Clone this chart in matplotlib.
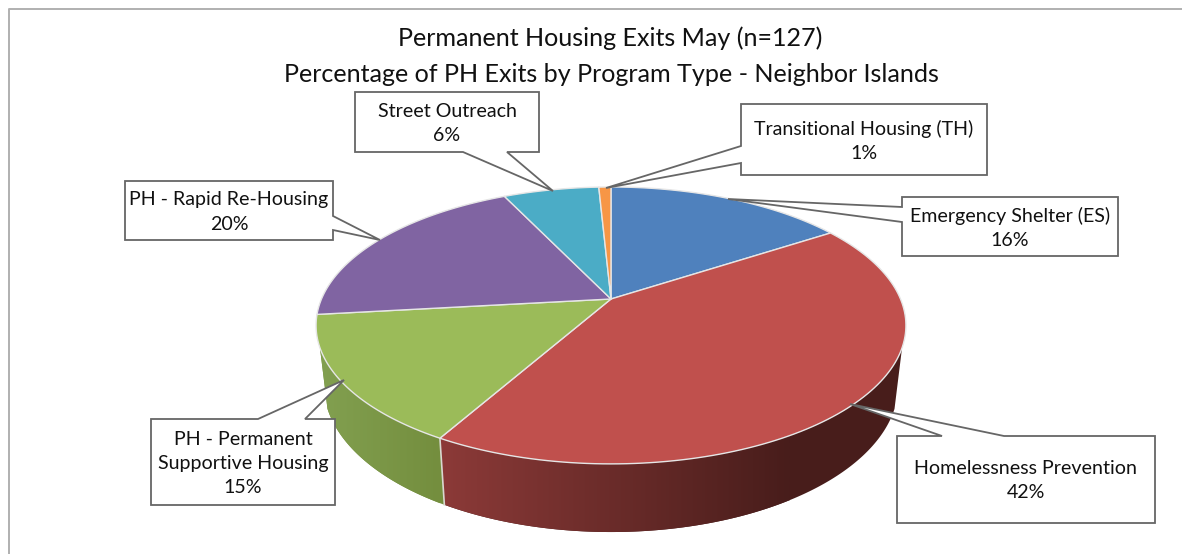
import numpy as np
import matplotlib
matplotlib.use('Agg')
import matplotlib.pyplot as plt
from matplotlib.patches import Polygon

plt.rcParams['font.family'] = ['Lato', 'DejaVu Sans']

names = ['Emergency Shelter (ES)', 'Homelessness Prevention',
         'PH - Permanent\nSupportive Housing', 'PH - Rapid Re-Housing',
         'Street Outreach', 'Transitional Housing (TH)']
values = [15.8, 42.4, 15.0, 19.7, 6.3, 0.8]
colors = ['#4F81BD', '#C0504D', '#9BBB59', '#8064A2', '#4BACC6', '#F79646']

# wall shading, colour at left and right end of each wall piece
wall_cols = {1: ((140, 58, 56), (72, 29, 27)), 2: ((130, 160, 80), (116, 142, 62))}
wall_x = {1: (440, 790), 2: (320, 440)}

# callouts in pixels: box (x0, y0, x1, y1), leader base 1, base 2, tip
boxes = [(902, 197, 1118, 256), (897, 436, 1155, 523), (151, 419, 335, 505),
         (125, 181, 333, 240), (355, 92, 539, 152), (741, 104, 987, 175)]
bases = [((902, 207), (902, 222)), ((942, 436), (1004, 436)), ((258, 419), (305, 419)),
         ((333, 216), (333, 230)), ((463, 152), (507, 152)), ((741, 146), (741, 163))]
tips = [(728, 199), (850, 404), (344, 380), (380, 240), (553, 191), (606, 188)]

cx = 611
cy = 299
k = 0.191


def top(theta):
    # clockwise from 12 o'clock, perspective circle
    u, v = np.sin(theta), np.cos(theta)
    w = 1 + k * v
    return np.column_stack([cx + 289.5 * u / w, cy - 133.4 * v / w])


def bottom(theta):
    u, v = np.sin(theta), np.cos(theta)
    w = 1 + k * v
    return np.column_stack([cx + 282 * u / w, 357 - 141.6 * v / w])


fig = plt.figure(figsize=(11.82, 5.54), dpi=100)
ax = fig.add_axes([0, 0, 1, 1])
ax.axis('off')

# chart frame
ax.plot([9, 9, 1182], [554, 9, 9], color='#b0b0b0', lw=1.4, zorder=1)

edges = np.radians(np.concatenate([[0], np.cumsum(values)]) * 3.6)

# side wall, only the front part shows
wall_a = np.radians(110)
wall_b = np.radians(250)
for i in [1, 2]:
    t = np.linspace(max(edges[i], wall_a), min(edges[i + 1], wall_b), 200)
    pts = np.vstack([top(t), bottom(t)[::-1]])
    x0, x1 = wall_x[i]
    left, right = wall_cols[i]
    s = np.linspace(0, 1, 256)
    grad = np.array([[(left[c] * (1 - v) + right[c] * v) / 255 for c in range(3)] for v in s])
    # flat colour past the gradient ends
    ax.add_patch(Polygon(pts, closed=True, facecolor=np.array(right) / 255,
                         edgecolor='none', zorder=1.5))
    im = ax.imshow(grad[np.newaxis, :, :], extent=(x0, x1, 554, 0), aspect='auto', zorder=2)
    im.set_clip_path(Polygon(pts, closed=True, transform=ax.transData))

ax.set_xlim(0, 1182)
ax.set_ylim(554, 0)

# seam between red and green on the wall
seam = np.array([edges[2]])
ax.plot([top(seam)[0, 0], bottom(seam)[0, 0]], [top(seam)[0, 1], bottom(seam)[0, 1]],
        color='#d8d8d0', lw=1.2, zorder=3)

# top face
for i in range(len(values)):
    t = np.linspace(edges[i], edges[i + 1], 120)
    pts = np.vstack([[cx, cy], top(t)])
    ax.add_patch(Polygon(pts, closed=True, facecolor=colors[i], edgecolor='#e6e6e6',
                         lw=1.0, joinstyle='round', zorder=4))

# callouts
for i in range(len(names)):
    x0, y0, x1, y1 = boxes[i]
    b1, b2 = bases[i]
    if b1[0] == x0 and b2[0] == x0:
        outline = [(x0, y0), (x1, y0), (x1, y1), (x0, y1), b2, tips[i], b1]
    elif b1[0] == x1 and b2[0] == x1:
        outline = [(x0, y0), (x1, y0), b1, tips[i], b2, (x1, y1), (x0, y1)]
    elif b1[1] == y0:
        outline = [(x0, y0), b1, tips[i], b2, (x1, y0), (x1, y1), (x0, y1)]
    else:
        outline = [(x0, y0), (x1, y0), (x1, y1), b2, tips[i], b1, (x0, y1)]
    ax.add_patch(Polygon(outline, closed=True, facecolor='white', edgecolor='#666666',
                         lw=1.3, joinstyle='miter', zorder=5))
    ax.text((x0 + x1) / 2, (y0 + y1) / 2 + 1.5, '{0}\n{1}%'.format(names[i], round(values[i])),
            ha='center', va='center', fontsize=14.1, color='#111111', linespacing=1.5, zorder=6)

ax.text(610, 38, 'Permanent Housing Exits May (n=127)', ha='center', va='center',
        fontsize=18.1, color='#111111')
ax.text(611, 74, 'Percentage of PH Exits by Program Type - Neighbor Islands', ha='center',
        va='center', fontsize=18.1, color='#111111')

plt.savefig('out.png', dpi=100)
